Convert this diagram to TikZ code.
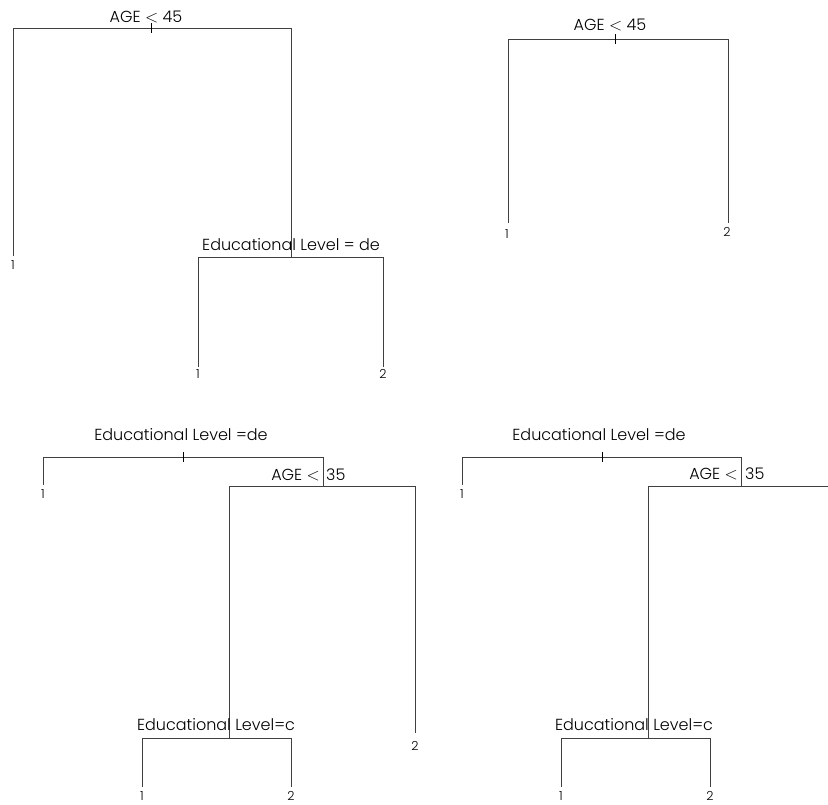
\documentclass[tikz,border=0pt]{standalone}
\usepackage{fontspec}
\setmainfont{Poppins}[UprightFont=* Light]
\newcommand{\lessthan}{\ensuremath{<}}
\begin{document}
\begin{tikzpicture}[x=1pt,y=-1pt,
  edge/.style={draw=black!75,line width=0.8pt},
  tickmark/.style={draw=black,line width=1pt},
  splitlabel/.style={inner sep=0pt,font=\fontsize{16}{16}\selectfont,anchor=base},
  leaflabel/.style={inner sep=0pt,font=\fontsize{12.5}{12.5}\selectfont,anchor=base}]
\useasboundingbox (0,0) rectangle (828,804);
% ---------- Tree 1 (top left) ----------
\coordinate (a1L) at (13,28); \coordinate (a1R) at (291,28);
\coordinate (a1Lend) at (13,256); \coordinate (a1Rend) at (291,257);
\coordinate (t1a) at (151,23); \coordinate (t1b) at (151,33);
\node[splitlabel] (s1) at (146,22) {AGE \lessthan\ 45};
\draw[edge] (a1Lend) -- (a1L) -- (a1R) -- (a1Rend);
\draw[tickmark] (t1a) -- (t1b);
\node[leaflabel] (l1a) at (13,269) {1};
\coordinate (b1L) at (198,257); \coordinate (b1R) at (383,257);
\coordinate (b1Lend) at (198,367); \coordinate (b1Rend) at (383,367);
\node[splitlabel] (s2) at (291,250) {Educational Level = de};
\draw[edge] (b1Lend) -- (b1L) -- (b1R) -- (b1Rend);
\draw[edge] (a1Rend) -- (b1L -| a1Rend);
\node[leaflabel] (l1b) at (198,378) {1};
\node[leaflabel] (l1c) at (383,378) {2};
% ---------- Tree 2 (top right) ----------
\coordinate (a2L) at (508,39); \coordinate (a2R) at (728,39);
\coordinate (a2Lend) at (508,223); \coordinate (a2Rend) at (728,223);
\coordinate (t2a) at (615,34); \coordinate (t2b) at (615,44);
\node[splitlabel] (s3) at (610,30) {AGE \lessthan\ 45};
\draw[edge] (a2Lend) -- (a2L) -- (a2R) -- (a2Rend);
\draw[tickmark] (t2a) -- (t2b);
\node[leaflabel] (l2a) at (507,238) {1};
\node[leaflabel] (l2b) at (727,236) {2};
% ---------- Tree 3 (bottom left) ----------
\coordinate (a3L) at (43,457); \coordinate (a3R) at (323,457);
\coordinate (a3Lend) at (43,485); \coordinate (a3Rend) at (323,486);
\coordinate (t3a) at (183,452); \coordinate (t3b) at (183,462);
\node[splitlabel] (s4) at (181,440) {Educational Level =de};
\draw[edge] (a3Lend) -- (a3L) -- (a3R) -- (a3Rend);
\draw[tickmark] (t3a) -- (t3b);
\node[leaflabel] (l3a) at (43,498) {1};
\node[splitlabel,anchor=base east] (s5a) at (320,480) {AGE \lessthan};
\node[splitlabel,anchor=base west] (s5b) at (326,480) {35};
\coordinate (b3L) at (229,486); \coordinate (b3R) at (415,486);
\coordinate (b3Rend) at (415,733); \coordinate (b3Lend) at (229,738);
\draw[edge] (b3Lend) -- (b3L) -- (b3R) -- (b3Rend);
\node[leaflabel] (l3b) at (415,750) {2};
\coordinate (c3L) at (142,738); \coordinate (c3R) at (291,738);
\coordinate (c3Lend) at (142,787); \coordinate (c3Rend) at (291,787);
\node[splitlabel] (s6) at (216,730) {Educational Level=c};
\draw[edge] (c3Lend) -- (c3L) -- (c3R) -- (c3Rend);
\node[leaflabel] (l3c) at (142,800) {1};
\node[leaflabel] (l3d) at (291,800) {2};
% ---------- Tree 4 (bottom right) ----------
\coordinate (a4L) at (462,457); \coordinate (a4R) at (741,457);
\coordinate (a4Lend) at (462,485); \coordinate (a4Rend) at (741,486);
\coordinate (t4a) at (602,452); \coordinate (t4b) at (602,462);
\node[splitlabel] (s7) at (599,440) {Educational Level =de};
\draw[edge] (a4Lend) -- (a4L) -- (a4R) -- (a4Rend);
\draw[tickmark] (t4a) -- (t4b);
\node[leaflabel] (l4a) at (462,498) {1};
\node[splitlabel,anchor=base east] (s8a) at (738,479) {AGE \lessthan};
\node[splitlabel,anchor=base west] (s8b) at (745,479) {35};
\coordinate (b4L) at (648,486); \coordinate (b4R) at (828,486);
\coordinate (b4Lend) at (648,738);
\draw[edge] (b4Lend) -- (b4L) -- (b4R);
\coordinate (c4L) at (561,738); \coordinate (c4R) at (710,738);
\coordinate (c4Lend) at (561,787); \coordinate (c4Rend) at (710,787);
\node[splitlabel] (s9) at (634,730) {Educational Level=c};
\draw[edge] (c4Lend) -- (c4L) -- (c4R) -- (c4Rend);
\node[leaflabel] (l4c) at (561,800) {1};
\node[leaflabel] (l4d) at (710,800) {2};
\end{tikzpicture}
\end{document}
